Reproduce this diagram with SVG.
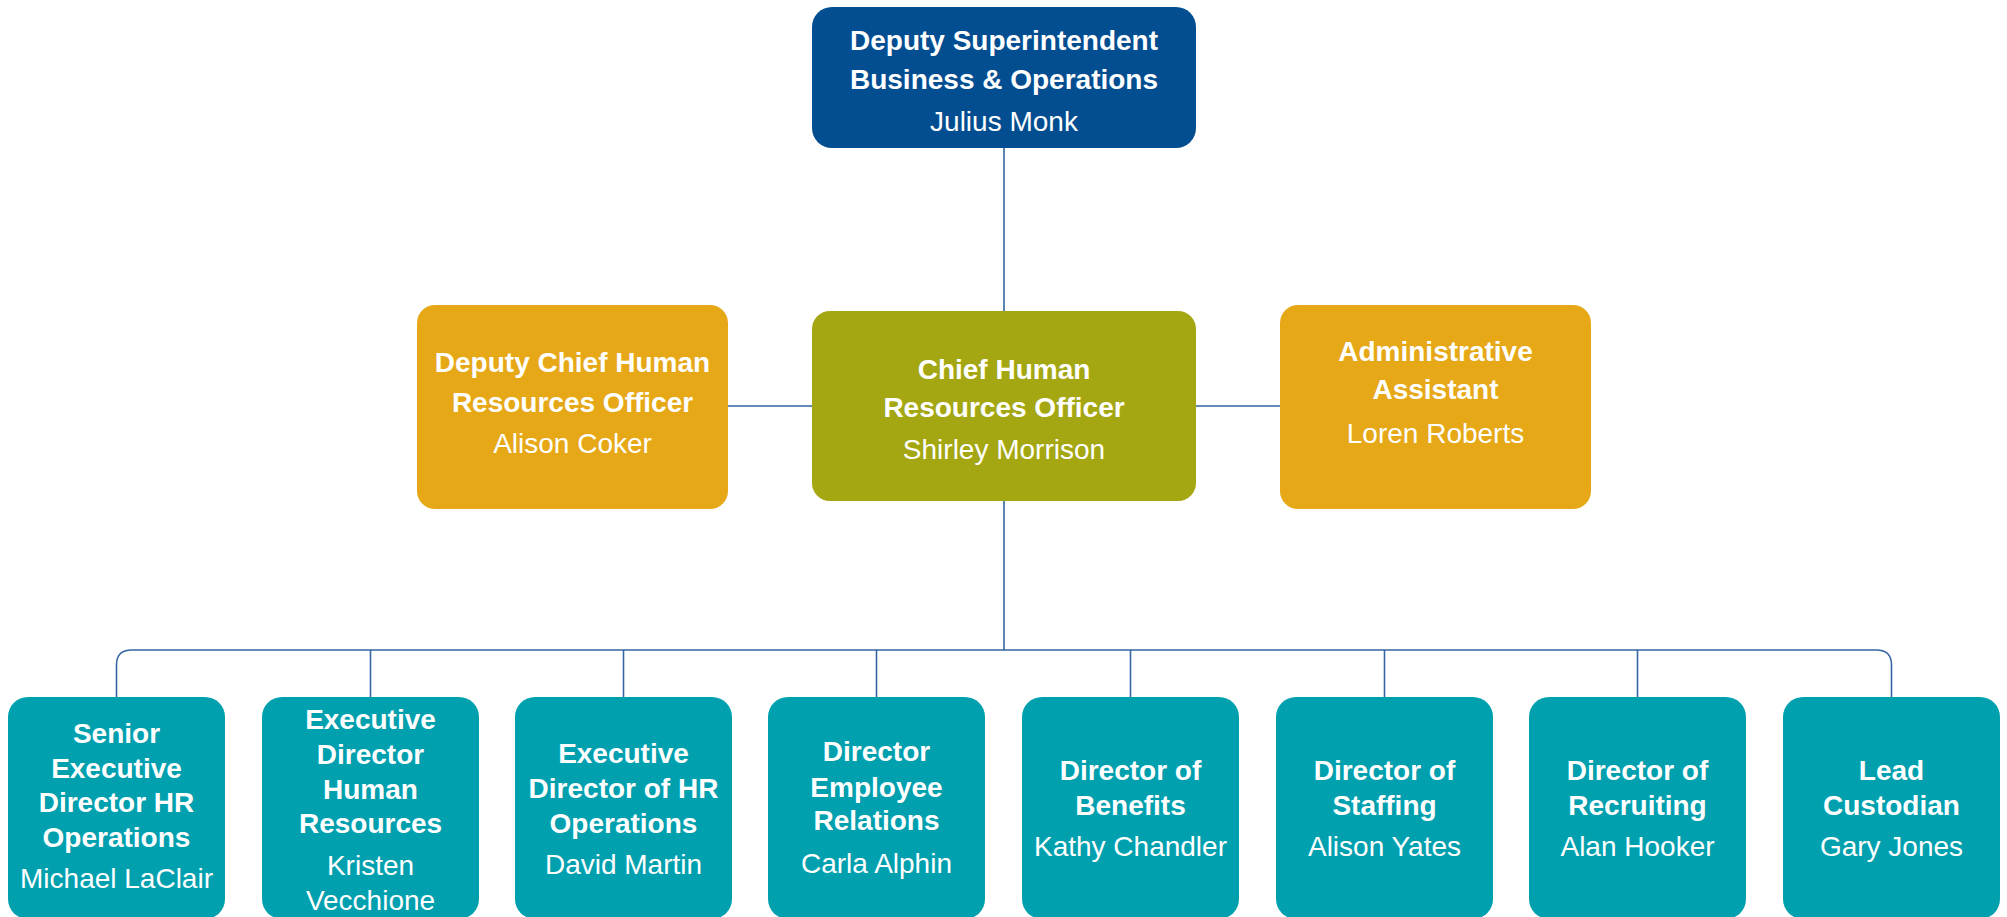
<svg xmlns="http://www.w3.org/2000/svg" width="2007" height="917" viewBox="0 0 2007 917">
<style>
.t{font-family:"Liberation Sans",Arial,sans-serif;font-size:28px;font-weight:bold;fill:#fff;text-anchor:middle}
.n{font-family:"Liberation Sans",Arial,sans-serif;font-size:28px;fill:#fff;text-anchor:middle}
.c{fill:none;stroke:#3566A3;stroke-width:1.6}
.blue{fill:#034E91}.olive{fill:#A4A712}.orange{fill:#E6A817}.teal{fill:#01A0AF}
</style>
<rect width="2007" height="917" fill="#fff"/>
<g id="connectors">
<path class="c" d="M1004,148V311M1004,500V650M728,406H812M1196,406H1280"/>
<path class="c" d="M116.5,697V665Q116.5,650 131.5,650H1876.5Q1891.5,650 1891.5,665V697"/>
<path class="c" d="M370.5,650V697M623.5,650V697M876.5,650V697M1130.5,650V697M1384.5,650V697M1637.5,650V697"/>
</g>
<g id="deputy-superintendent">
<rect class="blue" x="812" y="7" width="384" height="141" rx="20"/>
<text class="t" x="1004" y="50">Deputy Superintendent</text>
<text class="t" x="1004" y="89">Business &amp; Operations</text>
<text class="n" x="1004" y="131">Julius Monk</text>
</g>
<g id="deputy-chief-hr">
<rect class="orange" x="417" y="305" width="311" height="204" rx="18"/>
<text class="t" x="572.5" y="372">Deputy Chief Human</text>
<text class="t" x="572.5" y="412">Resources Officer</text>
<text class="n" x="572.5" y="453">Alison Coker</text>
</g>
<g id="chief-hr">
<rect class="olive" x="812" y="311" width="384" height="190" rx="18"/>
<text class="t" x="1004" y="379">Chief Human</text>
<text class="t" x="1004" y="417">Resources Officer</text>
<text class="n" x="1004" y="459">Shirley Morrison</text>
</g>
<g id="admin-assistant">
<rect class="orange" x="1280" y="305" width="311" height="204" rx="18"/>
<text class="t" x="1435.5" y="361">Administrative</text>
<text class="t" x="1435.5" y="399">Assistant</text>
<text class="n" x="1435.5" y="443">Loren Roberts</text>
</g>
<g id="senior-exec-director">
<rect class="teal" x="8" y="697" width="217" height="222" rx="20"/>
<text class="t" x="116.5" y="743">Senior</text>
<text class="t" x="116.5" y="778">Executive</text>
<text class="t" x="116.5" y="812">Director HR</text>
<text class="t" x="116.5" y="847">Operations</text>
<text class="n" x="116.5" y="888">Michael LaClair</text>
</g>
<g id="exec-director-hr">
<rect class="teal" x="262" y="697" width="217" height="222" rx="20"/>
<text class="t" x="370.5" y="729">Executive</text>
<text class="t" x="370.5" y="764">Director</text>
<text class="t" x="370.5" y="799">Human</text>
<text class="t" x="370.5" y="833">Resources</text>
<text class="n" x="370.5" y="875">Kristen</text>
<text class="n" x="370.5" y="910">Vecchione</text>
</g>
<g id="exec-director-hr-ops">
<rect class="teal" x="515" y="697" width="217" height="222" rx="20"/>
<text class="t" x="623.5" y="763">Executive</text>
<text class="t" x="623.5" y="798">Director of HR</text>
<text class="t" x="623.5" y="833">Operations</text>
<text class="n" x="623.5" y="874">David Martin</text>
</g>
<g id="director-employee-relations">
<rect class="teal" x="768" y="697" width="217" height="222" rx="20"/>
<text class="t" x="876.5" y="761">Director</text>
<text class="t" x="876.5" y="797">Employee</text>
<text class="t" x="876.5" y="830">Relations</text>
<text class="n" x="876.5" y="873">Carla Alphin</text>
</g>
<g id="director-benefits">
<rect class="teal" x="1022" y="697" width="217" height="222" rx="20"/>
<text class="t" x="1130.5" y="780">Director of</text>
<text class="t" x="1130.5" y="815">Benefits</text>
<text class="n" x="1130.5" y="856">Kathy Chandler</text>
</g>
<g id="director-staffing">
<rect class="teal" x="1276" y="697" width="217" height="222" rx="20"/>
<text class="t" x="1384.5" y="780">Director of</text>
<text class="t" x="1384.5" y="815">Staffing</text>
<text class="n" x="1384.5" y="856">Alison Yates</text>
</g>
<g id="director-recruiting">
<rect class="teal" x="1529" y="697" width="217" height="222" rx="20"/>
<text class="t" x="1637.5" y="780">Director of</text>
<text class="t" x="1637.5" y="815">Recruiting</text>
<text class="n" x="1637.5" y="856">Alan Hooker</text>
</g>
<g id="lead-custodian">
<rect class="teal" x="1783" y="697" width="217" height="222" rx="20"/>
<text class="t" x="1891.5" y="780">Lead</text>
<text class="t" x="1891.5" y="815">Custodian</text>
<text class="n" x="1891.5" y="856">Gary Jones</text>
</g>
</svg>
